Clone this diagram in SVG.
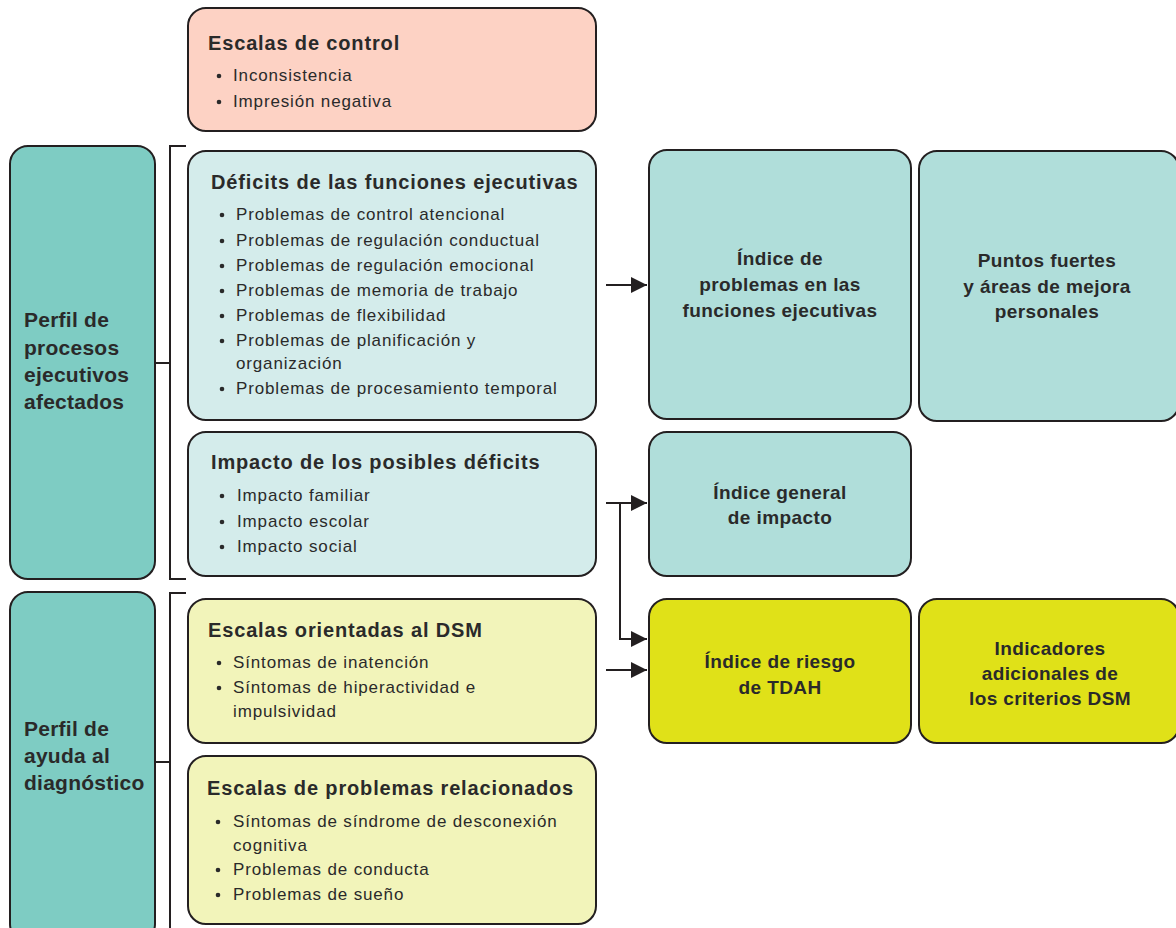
<svg xmlns="http://www.w3.org/2000/svg" width="1176" height="928" viewBox="0 0 1176 928">
<defs>
<style>
.box{stroke:#231F20;stroke-width:2}
.ctl{fill:#FDD2C4}
.tealL{fill:#7ECCC3}
.teal1{fill:#D4ECEB}
.teal2{fill:#B0DEDA}
.yel1{fill:#F2F4BA}
.yel2{fill:#E0E118}
.t{font-family:"Liberation Sans",Arial,sans-serif;font-weight:bold;font-size:20px;letter-spacing:0.85px;fill:#2A2A2A}
.tl{font-family:"Liberation Sans",Arial,sans-serif;font-weight:bold;font-size:21px;letter-spacing:0.25px;fill:#2A2A2A}
.tc{font-family:"Liberation Sans",Arial,sans-serif;font-weight:bold;font-size:19px;letter-spacing:0.4px;fill:#2A2A2A;text-anchor:middle}
.b{font-family:"Liberation Sans",Arial,sans-serif;font-size:17px;letter-spacing:0.85px;fill:#2A2A2A}
.dot{fill:#2A2A2A}
.ln{fill:none;stroke:#231F20;stroke-width:2}
</style>
<marker id="ah" viewBox="0 0 10 10" refX="10" refY="5" markerWidth="8.5" markerHeight="8" markerUnits="strokeWidth" orient="auto">
<path d="M0,0 L10,5 L0,10 Z" fill="#231F20"/>
</marker>
</defs>

<g id="connectors">
<path class="ln" d="M186,146 H170 V579 H186"/>
<path class="ln" d="M155,363 H170"/>
<path class="ln" d="M186,593 H170 V930"/>
<path class="ln" d="M155,762 H170"/>
<path class="ln" d="M606,285 H647" marker-end="url(#ah)"/>
<path class="ln" d="M606,503 H647" marker-end="url(#ah)"/>
<path class="ln" d="M620,503 V639 H647" marker-end="url(#ah)"/>
<path class="ln" d="M606,670 H647" marker-end="url(#ah)"/>
</g>

<g id="escalas-control">
<rect class="box ctl" x="188" y="8" width="408" height="123" rx="18"/>
<text class="t" x="208" y="50">Escalas de control</text>
<circle class="dot" cx="219" cy="76" r="2.3"/>
<text class="b" x="233" y="81">Inconsistencia</text>
<circle class="dot" cx="219" cy="102" r="2.3"/>
<text class="b" x="233" y="107">Impresión negativa</text>
</g>

<g id="perfil-procesos">
<rect class="box tealL" x="10" y="146" width="145" height="433" rx="18"/>
<text class="tl" x="24" y="327">Perfil de</text>
<text class="tl" x="24" y="355">procesos</text>
<text class="tl" x="24" y="382">ejecutivos</text>
<text class="tl" x="24" y="409">afectados</text>
</g>

<g id="perfil-ayuda">
<rect class="box tealL" x="10" y="592" width="145" height="350" rx="18"/>
<text class="tl" x="24" y="736">Perfil de</text>
<text class="tl" x="24" y="763">ayuda al</text>
<text class="tl" x="24" y="790">diagnóstico</text>
</g>

<g id="deficits">
<rect class="box teal1" x="188" y="151" width="408" height="269" rx="18"/>
<text class="t" x="211" y="189">Déficits de las funciones ejecutivas</text>
<circle class="dot" cx="222" cy="215" r="2.3"/>
<text class="b" x="236" y="220">Problemas de control atencional</text>
<circle class="dot" cx="222" cy="241" r="2.3"/>
<text class="b" x="236" y="246">Problemas de regulación conductual</text>
<circle class="dot" cx="222" cy="266" r="2.3"/>
<text class="b" x="236" y="271">Problemas de regulación emocional</text>
<circle class="dot" cx="222" cy="291" r="2.3"/>
<text class="b" x="236" y="296">Problemas de memoria de trabajo</text>
<circle class="dot" cx="222" cy="316" r="2.3"/>
<text class="b" x="236" y="321">Problemas de flexibilidad</text>
<circle class="dot" cx="222" cy="341" r="2.3"/>
<text class="b" x="236" y="346">Problemas de planificación y</text>
<text class="b" x="236" y="369">organización</text>
<circle class="dot" cx="222" cy="389" r="2.3"/>
<text class="b" x="236" y="394">Problemas de procesamiento temporal</text>
</g>

<g id="impacto">
<rect class="box teal1" x="188" y="432" width="408" height="144" rx="18"/>
<text class="t" x="211" y="469">Impacto de los posibles déficits</text>
<circle class="dot" cx="222" cy="496" r="2.3"/>
<text class="b" x="237" y="501">Impacto familiar</text>
<circle class="dot" cx="222" cy="522" r="2.3"/>
<text class="b" x="237" y="527">Impacto escolar</text>
<circle class="dot" cx="222" cy="547" r="2.3"/>
<text class="b" x="237" y="552">Impacto social</text>
</g>

<g id="escalas-dsm">
<rect class="box yel1" x="188" y="599" width="408" height="144" rx="18"/>
<text class="t" x="208" y="637">Escalas orientadas al DSM</text>
<circle class="dot" cx="219" cy="663" r="2.3"/>
<text class="b" x="233" y="668">Síntomas de inatención</text>
<circle class="dot" cx="219" cy="688" r="2.3"/>
<text class="b" x="233" y="693">Síntomas de hiperactividad e</text>
<text class="b" x="233" y="717">impulsividad</text>
</g>

<g id="escalas-problemas">
<rect class="box yel1" x="188" y="756" width="408" height="168" rx="18"/>
<text class="t" x="207" y="795">Escalas de problemas relacionados</text>
<circle class="dot" cx="218" cy="822" r="2.3"/>
<text class="b" x="233" y="827">Síntomas de síndrome de desconexión</text>
<text class="b" x="233" y="851">cognitiva</text>
<circle class="dot" cx="218" cy="870" r="2.3"/>
<text class="b" x="233" y="875">Problemas de conducta</text>
<circle class="dot" cx="218" cy="895" r="2.3"/>
<text class="b" x="233" y="900">Problemas de sueño</text>
</g>

<g id="indice-problemas">
<rect class="box teal2" x="649" y="150" width="262" height="269" rx="18"/>
<text class="tc" x="780" y="265">Índice de</text>
<text class="tc" x="780" y="291">problemas en las</text>
<text class="tc" x="780" y="317">funciones ejecutivas</text>
</g>

<g id="puntos-fuertes">
<rect class="box teal2" x="919" y="151" width="260" height="270" rx="18"/>
<text class="tc" x="1047" y="267">Puntos fuertes</text>
<text class="tc" x="1047" y="293">y áreas de mejora</text>
<text class="tc" x="1047" y="318">personales</text>
</g>

<g id="indice-impacto">
<rect class="box teal2" x="649" y="432" width="262" height="144" rx="18"/>
<text class="tc" x="780" y="499">Índice general</text>
<text class="tc" x="780" y="524">de impacto</text>
</g>

<g id="indice-riesgo">
<rect class="box yel2" x="649" y="599" width="262" height="144" rx="18"/>
<text class="tc" x="780" y="668">Índice de riesgo</text>
<text class="tc" x="780" y="694">de TDAH</text>
</g>

<g id="indicadores-dsm">
<rect class="box yel2" x="919" y="599" width="260" height="144" rx="18"/>
<text class="tc" x="1050" y="655">Indicadores</text>
<text class="tc" x="1050" y="680">adicionales de</text>
<text class="tc" x="1050" y="705">los criterios DSM</text>
</g>
</svg>
